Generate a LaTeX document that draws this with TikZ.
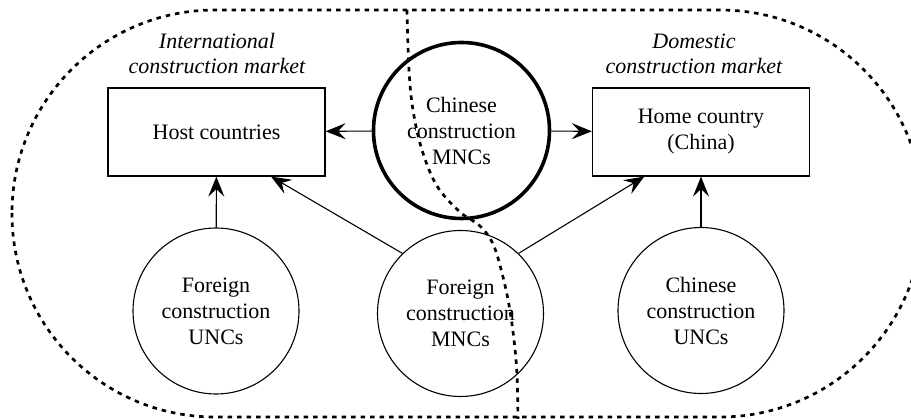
\documentclass[tikz,border=0pt]{standalone}
\usepackage{fontspec}
\setmainfont{Liberation Serif}
\usetikzlibrary{arrows.meta,calc}
\begin{document}
\begin{tikzpicture}[x=1pt,y=-1pt,
  txt/.style={font=\fontsize{22}{26}\selectfont, align=center, inner sep=0pt},
  marketlabel/.style={txt, font=\fontsize{22}{25}\selectfont\itshape},
  countrybox/.style={txt, draw, line width=1.2pt, minimum width=217pt, minimum height=88pt},
  firm/.style={txt, draw, circle, line width=1.1pt, minimum size=166pt},
  keyfirm/.style={firm, line width=3.6pt, minimum size=176pt},
  flow/.style={line width=1.1pt, -{Stealth[length=20pt, width=16pt, inset=7.5pt]}},
  boundary/.style={line width=2.7pt, dash pattern=on 4.5pt off 5pt}
]
\useasboundingbox (0,0) rectangle (911,419);

% market regions
\begin{scope}
\clip (0,0) rectangle (911,419);
\draw[boundary, rounded corners=203pt] (12,10) rectangle (923,417);
\end{scope}

% market labels
\node[marketlabel] (intl) at (217,54) {International\\construction market};
\node[marketlabel] (dom) at (694,54) {Domestic\\construction market};

% countries
\node[countrybox] (host) at (216.5,132) {Host countries};
\node[countrybox] (home) at (701,132) {Home country\\(China)};

% firms
\node[keyfirm] (cmnc) at (461.5,130.5) {Chinese\\construction\\MNCs};
\node[firm] (func) at (216,311) {Foreign\\construction\\UNCs};
\node[firm] (fmnc) at (460.5,313.5) {Foreign\\construction\\MNCs};
\node[firm] (cunc) at (701,310.5) {Chinese\\construction\\UNCs};

% flows
\draw[flow] (cmnc) -- (host);
\draw[flow] (cmnc) -- (home);
\draw[flow] (func) -- (host);
\draw[flow] (cunc) -- (home);
\draw[flow] (fmnc.134) -- ($(host.south west)!0.75!(host.south east)$);
\draw[flow] (fmnc.46) -- ($(home.south west)!0.24!(home.south east)$);

% dividing line between the two markets
\draw[boundary] plot[smooth, tension=0.6] coordinates {
  (407,10) (409,70) (413,110) (422,150) (437,186) (460,212) (480,226)
  (493,244) (502,273) (509,305) (514,340) (517,375) (518,421)};
\end{tikzpicture}
\end{document}
